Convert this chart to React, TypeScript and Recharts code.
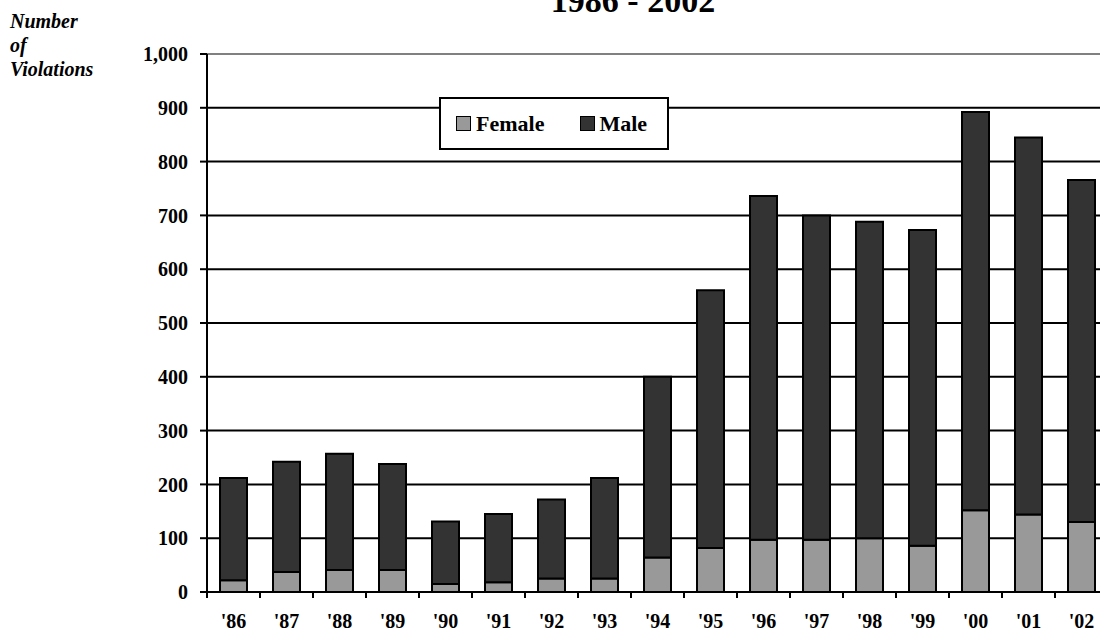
import React from 'react'
import { BarChart, Bar, XAxis, YAxis, CartesianGrid, ReferenceLine } from 'recharts'

const years = ["'86", "'87", "'88", "'89", "'90", "'91", "'92", "'93", "'94", "'95", "'96", "'97", "'98", "'99", "'00", "'01", "'02"]
const female = [22, 37, 41, 41, 15, 18, 25, 25, 64, 82, 97, 97, 100, 86, 152, 144, 130]
const male = [190, 205, 216, 197, 116, 127, 147, 187, 336, 479, 639, 603, 588, 587, 740, 701, 636]
const yTicks = [0, 100, 200, 300, 400, 500, 600, 700, 800, 900, 1000]
const seriesNames = ['Female', 'Male']

const data = years.map((year, i) => ({ year, Female: female[i], Male: male[i] }))

const FONT = '"Liberation Serif", "Times New Roman", serif'
const FEMALE_COLOR = '#999999'
const MALE_COLOR = '#333333'

const XTick = (props: any) => {
  const { x, y, payload } = props
  return (
    <g>
      <line x1={x - 26.5} x2={x - 26.5} y1={y - 6} y2={y} stroke="#000" strokeWidth={2} />
      <text x={x} y={y + 30} textAnchor="middle" fontFamily={FONT} fontWeight="bold" fontSize={20} fill="#000">
        {payload.value}
      </text>
    </g>
  )
}

// legend drawn as an overlay so it doesn't eat into the plot area
const LegendBox = () => (
  <div
    style={{
      position: 'absolute',
      left: 439,
      top: 97,
      width: 230,
      height: 53,
      boxSizing: 'border-box',
      border: '2px solid #000',
      background: '#fff',
      fontFamily: FONT,
      fontWeight: 'bold',
      fontSize: 22,
      display: 'flex',
      alignItems: 'center',
      paddingLeft: 15,
    }}
  >
    <span style={{ width: 13, height: 13, background: FEMALE_COLOR, border: '1.5px solid #000', marginRight: 5 }} />
    <span style={{ marginRight: 36 }}>{seriesNames[0]}</span>
    <span style={{ width: 13, height: 13, background: MALE_COLOR, border: '1.5px solid #000', marginRight: 4 }} />
    <span>{seriesNames[1]}</span>
  </div>
)

export default function App() {
  return (
    <div style={{ position: 'absolute', left: 0, top: 0, width: 1100, height: 631, overflow: 'hidden', background: '#fff' }}>
      <BarChart width={1108} height={631} data={data} margin={{ top: 54, right: 0, bottom: 0, left: 0 }} barCategoryGap={0}>
        <CartesianGrid vertical={false} stroke="#000" strokeWidth={2} />
        <ReferenceLine y={1000} stroke="#808080" strokeWidth={2} />
        <XAxis
          dataKey="year"
          height={39}
          axisLine={{ stroke: '#000', strokeWidth: 2 }}
          tickLine={false}
          tickSize={6}
          tickMargin={0}
          tick={<XTick />}
          interval={0}
        />
        <YAxis
          width={207}
          domain={[0, 1000]}
          ticks={yTicks}
          interval={0}
          tickSize={7}
          tickMargin={12}
          axisLine={{ stroke: '#000', strokeWidth: 2 }}
          tickLine={{ stroke: '#000', strokeWidth: 2 }}
          tick={{ fill: '#000', fontFamily: FONT, fontWeight: 'bold', fontSize: 20 }}
          tickFormatter={(v: number) => v.toLocaleString('en-US')}
        />
        <Bar dataKey="Female" stackId="a" fill={FEMALE_COLOR} stroke="#000" strokeWidth={2} barSize={27} isAnimationActive={false} />
        <Bar dataKey="Male" stackId="a" fill={MALE_COLOR} stroke="#000" strokeWidth={2} barSize={27} isAnimationActive={false} />
      </BarChart>
      <svg width={1100} height={631} style={{ position: 'absolute', left: 0, top: 0, pointerEvents: 'none' }}>
        <text x={633} y={12} textAnchor="middle" fontFamily={FONT} fontWeight="bold" fontSize={34} fill="#000">
          1986 - 2002
        </text>
        <g fontFamily={FONT} fontWeight="bold" fontStyle="italic" fontSize={20} fill="#000">
          <text x={10} y={28}>Number</text>
          <text x={10} y={52}>of</text>
          <text x={10} y={76}>Violations</text>
        </g>
      </svg>
      <LegendBox />
    </div>
  )
}
